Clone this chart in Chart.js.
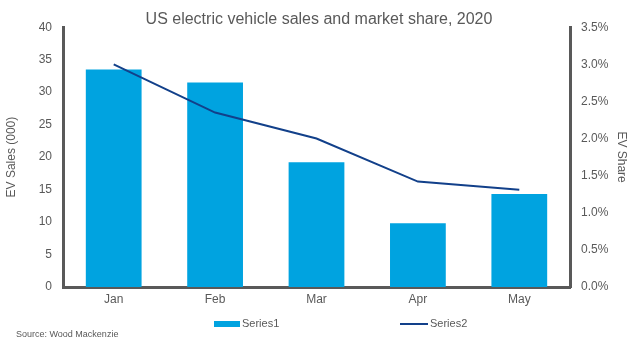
<!DOCTYPE html>
<html>
<head>
<meta charset="utf-8">
<script src="https://cdn.jsdelivr.net/npm/chart.js@4/dist/chart.umd.min.js"></script>
<style>
  html, body { margin: 0; padding: 0; background: #fff; }
  #wrap { width: 638px; height: 343px; }
</style>
</head>
<body>
<div id="wrap"><canvas id="myChart" width="638" height="343"></canvas></div>
<script>
const months = ['Jan', 'Feb', 'Mar', 'Apr', 'May']
const evSales = [33.5, 31.5, 19.2, 9.8, 14.3]   // thousands of units
const evShare = [3.0, 2.35, 2.0, 1.42, 1.31]    // percent of all sales

const grey = '#595959'
const fontFamily = '"Liberation Sans", Arial, sans-serif'

Chart.defaults.font.family = fontFamily
Chart.defaults.color = grey

// bottom legend + source note, spaced like the original report graphic
const footer = {
  id: 'footer',
  afterDraw(chart) {
    const ctx = chart.ctx
    const bars = chart.data.datasets[1]
    const line = chart.data.datasets[0]
    ctx.save()
    ctx.font = '11px ' + fontFamily
    ctx.textBaseline = 'middle'
    ctx.fillStyle = bars.backgroundColor
    ctx.fillRect(214, 321, 26, 6)
    ctx.fillStyle = grey
    ctx.fillText(bars.label, 242, 324)

    ctx.strokeStyle = line.borderColor
    ctx.lineWidth = 2
    ctx.beginPath()
    ctx.moveTo(400, 324)
    ctx.lineTo(428, 324)
    ctx.stroke()
    ctx.fillText(line.label, 430, 324)

    ctx.font = '9px ' + fontFamily
    ctx.fillText('Source: Wood Mackenzie', 16, 335)
    ctx.restore()
  }
}

const data = {
  labels: months,
  datasets: [{
    type: 'line',
    label: 'Series2',
    data: evShare,
    yAxisID: 'y1',
    borderColor: '#12408a',
    borderWidth: 2,
    pointRadius: 0,
    tension: 0,
    order: 0
  }, {
    type: 'bar',
    label: 'Series1',
    data: evSales,
    yAxisID: 'y',
    backgroundColor: '#00a3e0',
    categoryPercentage: 1,
    barPercentage: 0.55,
    order: 1
  }]
}

const config = {
  type: 'bar',
  data: data,
  plugins: [footer],
  options: {
    responsive: false,
    animation: false,
    layout: { padding: 0 },
    plugins: {
      legend: { display: false },
      tooltip: { enabled: false },
      title: {
        display: true,
        text: 'US electric vehicle sales and market share, 2020',
        color: grey,
        font: { size: 16, weight: 'normal' },
        padding: { top: 10, bottom: -2 }
      }
    },
    scales: {
      x: {
        grid: { display: false, drawTicks: false },
        border: { display: true, color: grey, width: 3 },
        ticks: { color: grey, font: { size: 12 }, padding: 5 },
        afterFit(scale) { scale.height = 56 }
      },
      y: {
        position: 'left',
        min: 0,
        max: 40,
        grid: { display: false, drawTicks: false },
        border: { display: true, color: grey, width: 3 },
        ticks: { stepSize: 5, color: grey, font: { size: 12 }, padding: 11 },
        title: {
          display: true,
          text: 'EV Sales (000)',
          color: grey,
          font: { size: 12 },
          padding: { top: 4, bottom: 0 }
        },
        afterFit(scale) { scale.width = 63 }
      },
      y1: {
        position: 'right',
        min: 0,
        max: 3.5,
        grid: { display: false, drawTicks: false },
        border: { display: true, color: grey, width: 3 },
        ticks: {
          stepSize: 0.5,
          color: grey,
          font: { size: 12 },
          padding: 11,
          callback: v => v.toFixed(1) + '%'
        },
        title: {
          display: true,
          text: 'EV Share',
          color: grey,
          font: { size: 12 },
          padding: { top: 9, bottom: 0 }
        },
        afterFit(scale) { scale.width = 68 }
      }
    }
  }
}

const myChart = new Chart(document.getElementById('myChart'), config)
</script>
</body>
</html>
